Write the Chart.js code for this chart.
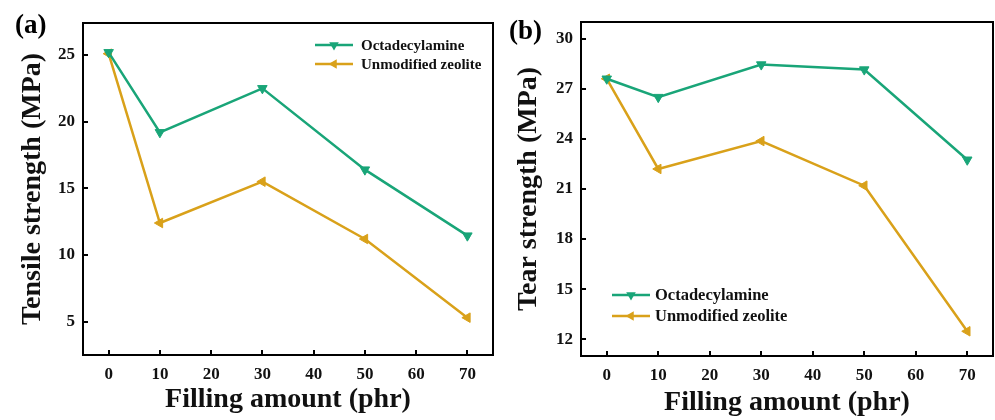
<!DOCTYPE html>
<html>
<head>
<meta charset="utf-8">
<script src="https://cdn.jsdelivr.net/npm/chart.js@4.4.1/dist/chart.umd.min.js"></script>
<style>
  html, body { margin: 0; padding: 0; background: #fff; }
  .row { display: flex; width: 995px; height: 420px; }
  .panel { position: relative; height: 420px; }
  #wrapA { width: 495px; }
  #wrapB { width: 500px; }
</style>
</head>
<body>
<div class="row">
  <div class="panel" id="wrapA"><canvas id="chartA" width="495" height="420"></canvas></div>
  <div class="panel" id="wrapB"><canvas id="chartB" width="500" height="420"></canvas></div>
</div>
<script>
// filling amount (phr)
const fillingAmount = [0, 10, 30, 50, 70];

// (a) tensile strength, MPa
const tensileOctadecylamine = [25.2, 19.2, 22.5, 16.4, 11.45];
const tensileUnmodified = [25.1, 12.4, 15.5, 11.2, 5.3];

// (b) tear strength, MPa
const tearOctadecylamine = [27.6, 26.5, 28.45, 28.15, 22.75];
const tearUnmodified = [27.6, 22.2, 23.87, 21.2, 12.48];

const xTicks = [0, 10, 20, 30, 40, 50, 60, 70];
const yTicksA = [5, 10, 15, 20, 25];
const yTicksB = [12, 15, 18, 21, 24, 27, 30];

const seriesNames = ['Octadecylamine', 'Unmodified zeolite'];
const GREEN = '#19a578';
const GOLD = '#d9a11a';
const FONT = "'Liberation Serif', 'Times New Roman', serif";

function pts(ys) {
  return fillingAmount.map((x, i) => ({ x: x, y: ys[i] }));
}

// frame, inward ticks, panel letter and legend
const framePlugin = {
  id: 'frame',
  afterDraw(chart) {
    const o = chart.options.plugins.frame;
    const ctx = chart.ctx;
    const a = chart.chartArea;
    const xs = chart.scales.x, ys = chart.scales.y;
    ctx.save();
    ctx.strokeStyle = '#000';
    ctx.lineWidth = 2;
    ctx.strokeRect(a.left, a.top, a.right - a.left, a.bottom - a.top);
    ctx.beginPath();
    xs.ticks.forEach(t => {
      const px = Math.round(xs.getPixelForValue(t.value));
      ctx.moveTo(px, a.bottom);
      ctx.lineTo(px, a.bottom - 5);
    });
    ys.ticks.forEach(t => {
      const py = Math.round(ys.getPixelForValue(t.value));
      ctx.moveTo(a.left, py);
      ctx.lineTo(a.left + 5, py);
    });
    ctx.stroke();

    // panel letter
    ctx.fillStyle = '#000';
    ctx.font = 'bold 27px ' + FONT;
    ctx.textBaseline = 'middle';
    ctx.textAlign = 'left';
    ctx.fillText(o.letter, o.letterX, o.letterY);

    // legend
    ctx.font = 'bold ' + o.legFont + 'px ' + FONT;
    chart.data.datasets.forEach((ds, i) => {
      const y = o.legY + i * o.legGap;
      ctx.strokeStyle = ds.borderColor;
      ctx.lineWidth = 2.5;
      ctx.beginPath();
      ctx.moveTo(o.legX, y);
      ctx.lineTo(o.legX + 38, y);
      ctx.stroke();
      ctx.fillStyle = ds.borderColor;
      const r = 5.5;
      ctx.save();
      ctx.translate(o.legX + 19, y);
      ctx.rotate(ds.pointRotation * Math.PI / 180);
      ctx.beginPath();
      ctx.moveTo(0, -r);
      ctx.lineTo(r * 0.87, r * 0.5);
      ctx.lineTo(-r * 0.87, r * 0.5);
      ctx.closePath();
      ctx.fill();
      ctx.restore();
      ctx.fillStyle = '#111';
      ctx.fillText(ds.label, o.legX + o.legTextOff, y + 1);
    });
    ctx.restore();
  }
};

function makeChart(id, cfg) {
  return new Chart(document.getElementById(id), {
    type: 'line',
    data: {
      datasets: [
        {
          label: seriesNames[0],
          data: pts(cfg.green),
          borderColor: GREEN,
          backgroundColor: GREEN,
          borderWidth: 2.5,
          pointStyle: 'triangle',
          pointRotation: 180,
          pointRadius: 5.5,
          pointBorderWidth: 1,
        },
        {
          label: seriesNames[1],
          data: pts(cfg.gold),
          borderColor: GOLD,
          backgroundColor: GOLD,
          borderWidth: 2.5,
          pointStyle: 'triangle',
          pointRotation: 270,
          pointRadius: 5.5,
          pointBorderWidth: 1,
        },
      ],
    },
    options: {
      responsive: false,
      animation: false,
      layout: { autoPadding: false, padding: { left: 0, right: cfg.padRight, top: cfg.padTop, bottom: 0 } },
      plugins: {
        legend: { display: false },
        tooltip: { enabled: false },
        frame: cfg.frame,
      },
      scales: {
        x: {
          type: 'linear',
          min: -5,
          max: 75,
          afterBuildTicks: s => { s.ticks = xTicks.map(v => ({ value: v })); },
          afterFit: s => { s.height = cfg.xHeight; s.paddingLeft = 0; s.paddingRight = 0; },
          grid: { display: false, drawTicks: false },
          border: { display: false },
          ticks: { color: '#111', font: { family: FONT, size: 17, weight: 'bold' }, padding: 9 },
          title: {
            display: true,
            text: 'Filling amount (phr)',
            color: '#111',
            font: { family: FONT, size: 28, weight: 'bold' },
            padding: { top: 0, bottom: cfg.xTitlePad },
          },
        },
        y: {
          type: 'linear',
          min: cfg.yMin,
          max: cfg.yMax,
          afterBuildTicks: s => { s.ticks = cfg.yTicks.map(v => ({ value: v })); },
          afterFit: s => { s.width = cfg.yWidth; s.paddingTop = 0; s.paddingBottom = 0; },
          grid: { display: false, drawTicks: false },
          border: { display: false },
          ticks: { color: '#111', font: { family: FONT, size: 17, weight: 'bold' }, padding: 8 },
          title: {
            display: true,
            text: cfg.yTitle,
            color: '#111',
            font: { family: FONT, size: 28, weight: 'bold' },
            padding: { top: cfg.yTitlePad, bottom: 0 },
          },
        },
      },
    },
    plugins: [framePlugin],
  });
}

makeChart('chartA', {
  green: tensileOctadecylamine,
  gold: tensileUnmodified,
  yMin: 2.5, yMax: 27.4,
  yTicks: yTicksA,
  yTitle: 'Tensile strength (MPa)',
  padTop: 23, padRight: 2, xHeight: 65, yWidth: 83,
  xTitlePad: 3, yTitlePad: 16,
  frame: { letter: '(a)', letterX: 15, letterY: 26, legX: 315, legY: 45, legGap: 19, legFont: 15, legTextOff: 46 },
});

makeChart('chartB', {
  green: tearOctadecylamine,
  gold: tearUnmodified,
  yMin: 11, yMax: 31,
  yTicks: yTicksB,
  yTitle: 'Tear strength (MPa)',
  padTop: 22, padRight: 2, xHeight: 64, yWidth: 86,
  xTitlePad: 0, yTitlePad: 17,
  frame: { letter: '(b)', letterX: 14, letterY: 32, legX: 117, legY: 295, legGap: 21, legFont: 16.5, legTextOff: 43 },
});
</script>
</body>
</html>
